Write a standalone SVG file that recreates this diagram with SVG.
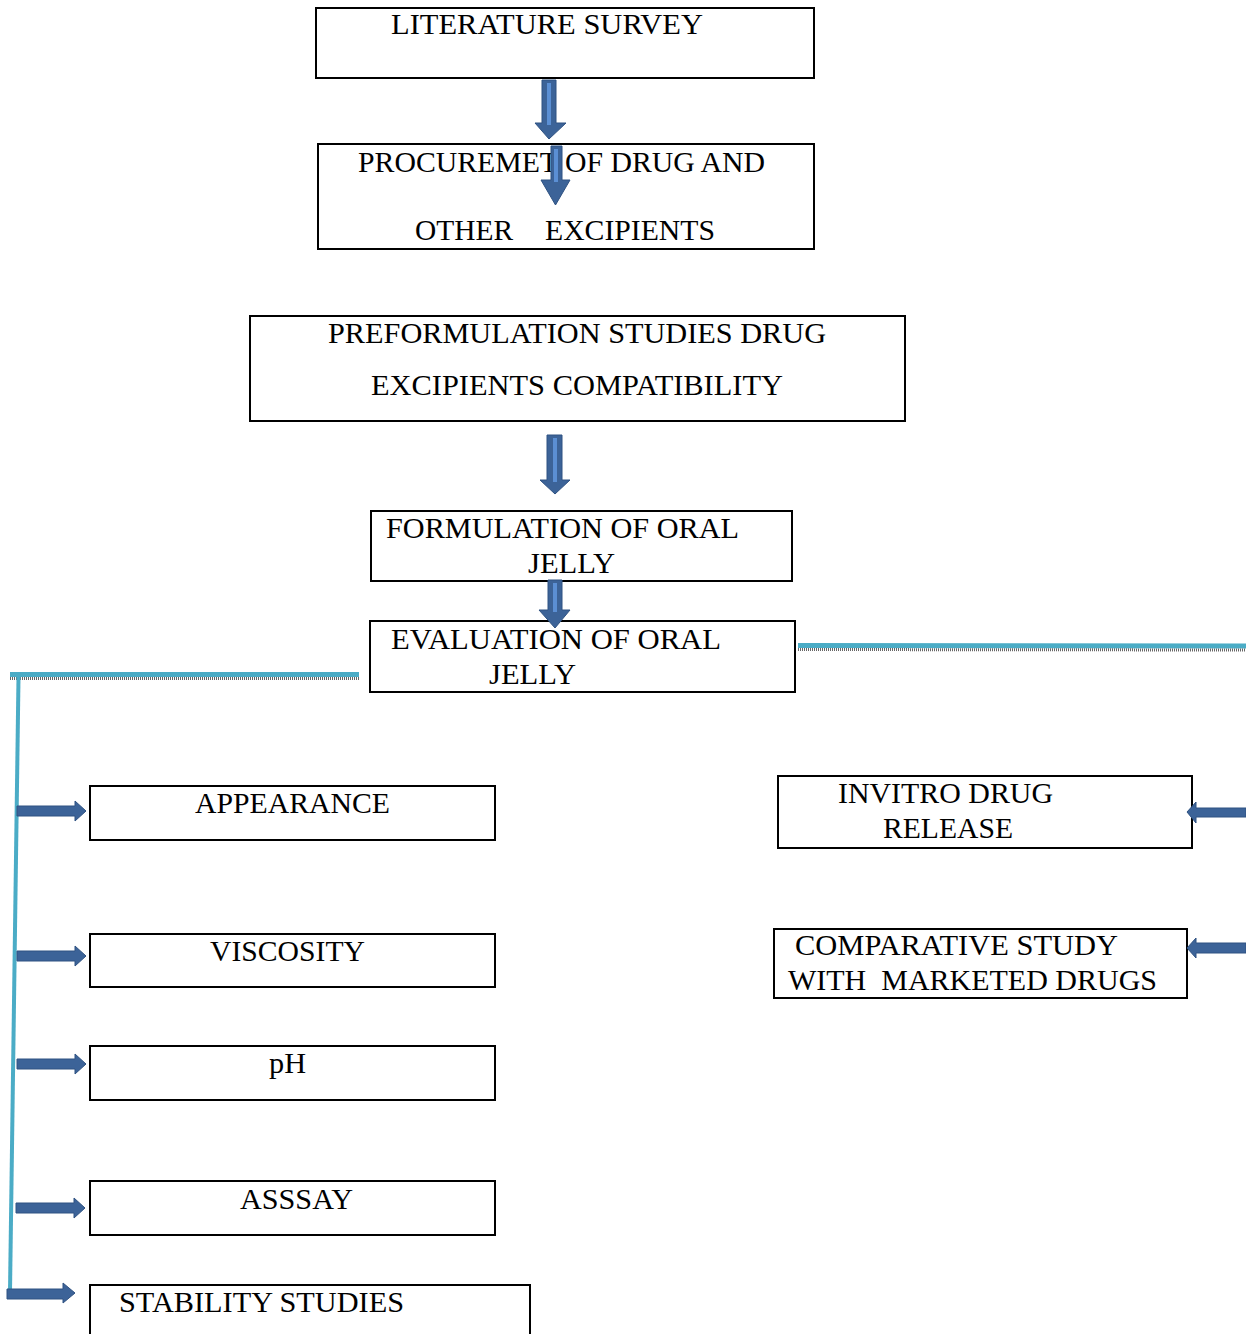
<svg xmlns="http://www.w3.org/2000/svg" width="1246" height="1334" viewBox="0 0 1246 1334">
<style>
.box{fill:#fff;stroke:#000;stroke-width:2}
.t{font-family:"Liberation Serif","Times New Roman",serif;font-size:29.5px;fill:#000;white-space:pre}
.arr{fill:#3c6398;stroke:#2f5282;stroke-width:1}
.hl{fill:#5b8fd4}
.cy{stroke:#4bacc6;fill:none}
.dot{stroke:#666;stroke-width:3;stroke-dasharray:1 1;fill:none}
</style>
<rect width="1246" height="1334" fill="#fff"/>
<g id="n1"><rect class="box" x="316" y="8" width="498" height="70"/><text class="t" x="391" y="34" textLength="312" lengthAdjust="spacingAndGlyphs">LITERATURE SURVEY</text></g>
<g id="n2"><rect class="box" x="318" y="144" width="496" height="105"/><text class="t" x="358" y="172" textLength="407" lengthAdjust="spacingAndGlyphs">PROCUREMET OF DRUG AND</text><text class="t" x="415" y="240" textLength="98" lengthAdjust="spacingAndGlyphs">OTHER</text><text class="t" x="545" y="240" textLength="170" lengthAdjust="spacingAndGlyphs">EXCIPIENTS</text></g>
<g id="n3"><rect class="box" x="250" y="316" width="655" height="105"/><text class="t" x="328" y="343" textLength="498" lengthAdjust="spacingAndGlyphs">PREFORMULATION STUDIES DRUG</text><text class="t" x="371" y="395" textLength="412" lengthAdjust="spacingAndGlyphs">EXCIPIENTS COMPATIBILITY</text></g>
<g id="n4"><rect class="box" x="371" y="511" width="421" height="70"/><text class="t" x="386" y="538" textLength="353" lengthAdjust="spacingAndGlyphs">FORMULATION OF ORAL</text><text class="t" x="528" y="573" textLength="87" lengthAdjust="spacingAndGlyphs">JELLY</text></g>
<g id="n5"><rect class="box" x="370" y="621" width="425" height="71"/><text class="t" x="391" y="649" textLength="330" lengthAdjust="spacingAndGlyphs">EVALUATION OF ORAL</text><text class="t" x="489" y="684" textLength="87" lengthAdjust="spacingAndGlyphs">JELLY</text></g>
<g id="n6"><rect class="box" x="90" y="786" width="405" height="54"/><text class="t" x="195" y="813" textLength="195" lengthAdjust="spacingAndGlyphs">APPEARANCE</text></g>
<g id="n7"><rect class="box" x="90" y="934" width="405" height="53"/><text class="t" x="210" y="961" textLength="155" lengthAdjust="spacingAndGlyphs">VISCOSITY</text></g>
<g id="n8"><rect class="box" x="90" y="1046" width="405" height="54"/><text class="t" x="269" y="1073" textLength="37" lengthAdjust="spacingAndGlyphs">pH</text></g>
<g id="n9"><rect class="box" x="90" y="1181" width="405" height="54"/><text class="t" x="240" y="1209" textLength="113" lengthAdjust="spacingAndGlyphs">ASSSAY</text></g>
<g id="n10"><rect class="box" x="90" y="1285" width="440" height="60"/><text class="t" x="119" y="1312" textLength="285" lengthAdjust="spacingAndGlyphs">STABILITY STUDIES</text></g>
<g id="n11"><rect class="box" x="778" y="776" width="414" height="72"/><text class="t" x="838" y="803" textLength="215" lengthAdjust="spacingAndGlyphs">INVITRO DRUG</text><text class="t" x="883" y="838" textLength="130" lengthAdjust="spacingAndGlyphs">RELEASE</text></g>
<g id="n12"><rect class="box" x="774" y="929" width="413" height="69"/><text class="t" x="795" y="955" textLength="323" lengthAdjust="spacingAndGlyphs">COMPARATIVE STUDY</text><text class="t" x="788" y="990" textLength="369" lengthAdjust="spacingAndGlyphs">WITH  MARKETED DRUGS</text></g>
<g id="connectors">
<polygon class="arr" points="542,80 556,80 556,123 566,123 549,139 535,123 542,123"/><rect class="hl" x="547" y="83" width="4" height="42"/>
<polygon class="arr" points="551,146 562,146 562,180 570,180 555.5,205 541,180 551,180"/><rect class="hl" x="554" y="149" width="4" height="33"/>
<polygon class="arr" points="547,435 562,435 562,480 570,480 555,494 540,480 547,480"/><rect class="hl" x="553" y="438" width="4" height="44"/>
<polygon class="arr" points="548,580 562,580 562,610 570,610 555,628 539,610 548,610"/><rect class="hl" x="553" y="583" width="4" height="29"/>
<line class="cy" x1="10" y1="674.5" x2="359" y2="674.5" stroke-width="5"/>
<line class="dot" x1="10" y1="678.5" x2="359" y2="678.5"/>
<line class="cy" x1="798" y1="645.5" x2="1246" y2="646" stroke-width="5"/>
<line class="dot" x1="798" y1="649.5" x2="1246" y2="650"/>
<line class="cy" x1="18.5" y1="677" x2="10" y2="1292" stroke-width="4"/>
<polygon class="arr" points="17,806 75,806 75,801 86,811 75,821 75,816 17,816"/>
<polygon class="arr" points="17,951 75,951 75,946 86,956 75,966 75,961 17,961"/>
<polygon class="arr" points="17,1059 75,1059 75,1054 86,1064 75,1074 75,1069 17,1069"/>
<polygon class="arr" points="16,1203 74,1203 74,1198 85,1208 74,1218 74,1213 16,1213"/>
<polygon class="arr" points="7,1289 63,1289 63,1283 75,1293 63,1303 63,1299 7,1299"/>
<polygon class="arr" points="1246,808 1196,808 1196,802 1187,812 1196,823 1196,817 1246,817"/>
<polygon class="arr" points="1246,943 1196,943 1196,938 1187,948 1196,958 1196,953 1246,953"/>
</g>
</svg>
